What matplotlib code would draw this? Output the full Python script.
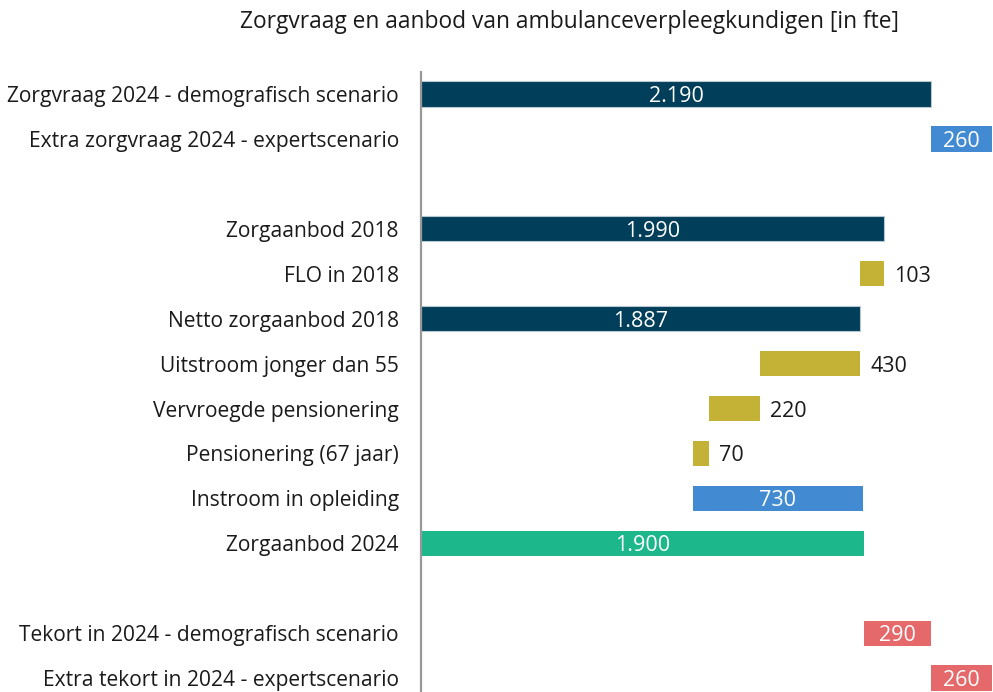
import matplotlib.pyplot as plt

plt.rcParams["font.family"] = ["Open Sans", "DejaVu Sans"]

TITLE = "Zorgvraag en aanbod van ambulanceverpleegkundigen [in fte]"

# "" marks an empty spacer row
categories = [
    "Zorgvraag 2024 - demografisch scenario",
    "Extra zorgvraag 2024 - expertscenario",
    "",
    "Zorgaanbod 2018",
    "FLO in 2018",
    "Netto zorgaanbod 2018",
    "Uitstroom jonger dan 55",
    "Vervroegde pensionering",
    "Pensionering (67 jaar)",
    "Instroom in opleiding",
    "Zorgaanbod 2024",
    "",
    "Tekort in 2024 - demografisch scenario",
    "Extra tekort in 2024 - expertscenario",
]
values = [2190, 260, 0, 1990, 103, 1887, 430, 220, 70, 730, 1900, 0, 290, 260]
starts = [0, 2190, 0, 0, 1887, 0, 1457, 1237, 1167, 1167, 0, 0, 1900, 2190]
kinds = ["total", "extra", "", "total", "loss", "total", "loss", "loss", "loss",
         "extra", "supply", "", "short", "short"]

colors = {
    "total": "#003e59",
    "extra": "#428ad1",
    "loss": "#c4b236",
    "supply": "#1cb78a",
    "short": "#e5686a",
}


def fmt(v):
    return "{:,}".format(v).replace(",", ".")


fig = plt.figure(figsize=(9.93, 6.92), dpi=100)
ax = fig.add_axes([421 / 993, 0, 1 - 421 / 993, 1 - 72 / 692])

for i, (v, s, k) in enumerate(zip(values, starts, kinds)):
    if v == 0:
        continue
    edge = "#b8c8d0" if k == "total" else colors[k]
    ax.barh(i, v, left=s, height=0.56, color=colors[k], edgecolor=edge,
            linewidth=0.8 if k == "total" else 0)
    if k == "loss":
        ax.annotate(fmt(v), (s + v, i), xytext=(7, 0), textcoords="offset points",
                    va="center_baseline", ha="left", fontsize=15.5, color="#1a1a1a")
    else:
        ax.text(s + v / 2, i, fmt(v), va="center_baseline", ha="center",
                fontsize=15.5, color="white")

ax.set_xlim(0, 2456)
ax.set_ylim(13.31, -0.49)
ax.set_yticks(range(len(categories)))
ax.set_yticklabels(categories, fontsize=15.1, color="#1a1a1a")
ax.tick_params(axis="y", length=0, pad=16)
ax.set_xticks([])
for side in ["top", "right", "bottom"]:
    ax.spines[side].set_visible(False)
ax.spines["left"].set_color("#999999")
ax.spines["left"].set_linewidth(1.6)

fig.text(569 / 993, 1 - 22 / 692, TITLE, ha="center", va="center",
         fontsize=16.4, color="#1a1a1a")

fig.savefig("out.png", dpi=100)
